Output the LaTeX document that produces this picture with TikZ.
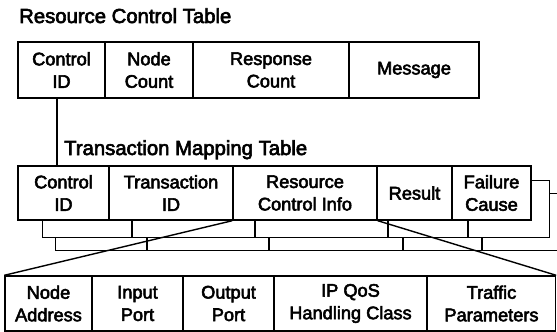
\documentclass[tikz,border=0pt]{standalone}
\usepackage{fontspec}
\setmainfont[FakeBold=3]{Liberation Sans}
\tikzset{
  box/.style={draw, line width=1.4pt},
  cell/.style={draw, fill=white, line width=1.4pt, inner sep=0pt, align=center,
    font=\fontsize{18.2}{22.5}\selectfont},
  ttl/.style={inner sep=0pt, anchor=base west, font=\fontsize{20.3}{22}\selectfont},
  link/.style={line width=1.4pt}
}
\begin{document}
\begin{tikzpicture}[x=1pt,y=-1pt]
\useasboundingbox (0,0) rectangle (557,332);
% Resource Control Table
\node[ttl] (t1) at (19,23) {Resource Control Table};
\node[cell, minimum width=87pt, minimum height=56pt] (rc1) at (61.5,70) {Control\\ID};
\node[cell, minimum width=88pt, minimum height=56pt] (rc2) at (149,70) {Node\\Count};
\node[cell, minimum width=156pt, minimum height=56pt] (rc3) at (271,70) {Response\\Count};
\node[cell, minimum width=130pt, minimum height=56pt] (rc4) at (414,70) {Message};
% Transaction Mapping Table
\node[ttl] (t2) at (64,155) {Transaction Mapping Table};
% back layer 3
\node[box, fill=white, inner sep=0pt, anchor=north west, minimum width=510pt, minimum height=57pt] (l3) at (55,193) {};
\foreach \x in {147,269,403,482} \draw[link] (\x,237) -- (\x,250);
% back layer 2
\node[box, fill=white, inner sep=0pt, anchor=north west, minimum width=507pt, minimum height=57pt] (l2) at (42,180) {};
\foreach \x in {132,255,388,468} \draw[link] (\x,220) -- (\x,237);
% front layer
\node[cell, minimum width=91pt, minimum height=54pt] (tm1) at (63.5,193) {Control\\ID};
\node[cell, minimum width=124pt, minimum height=54pt] (tm2) at (171,193) {Transaction\\ID};
\node[cell, minimum width=144pt, minimum height=54pt] (tm3) at (305,193) {Resource\\Control Info};
\node[cell, minimum width=75pt, minimum height=54pt] (tm4) at (414.5,193) {Result};
\node[cell, minimum width=79pt, minimum height=54pt] (tm5) at (491.5,193) {Failure\\Cause};
% connector between tables
\coordinate (c1) at (57,98);
\coordinate (c2) at (57,166);
\draw[link] (c1) -- (c2);
% lower table
\node[cell, minimum width=87pt, minimum height=55pt] (p1) at (48.5,303.5) {Node\\Address};
\node[cell, minimum width=91pt, minimum height=55pt] (p2) at (137.5,303.5) {Input\\Port};
\node[cell, minimum width=91pt, minimum height=55pt] (p3) at (228.5,303.5) {Output\\Port};
\node[cell, minimum width=153pt, minimum height=55pt] (p4) at (350.5,303.5) {IP QoS\\Handling Class};
\node[cell, minimum width=128pt, minimum height=55pt] (p5) at (491.5,303.5) {Traffic\\Parameters};
% expansion lines
\draw[link] (tm3.south west) -- (p1.north west);
\draw[link] (tm3.south east) -- (p5.north east);
\end{tikzpicture}
\end{document}
